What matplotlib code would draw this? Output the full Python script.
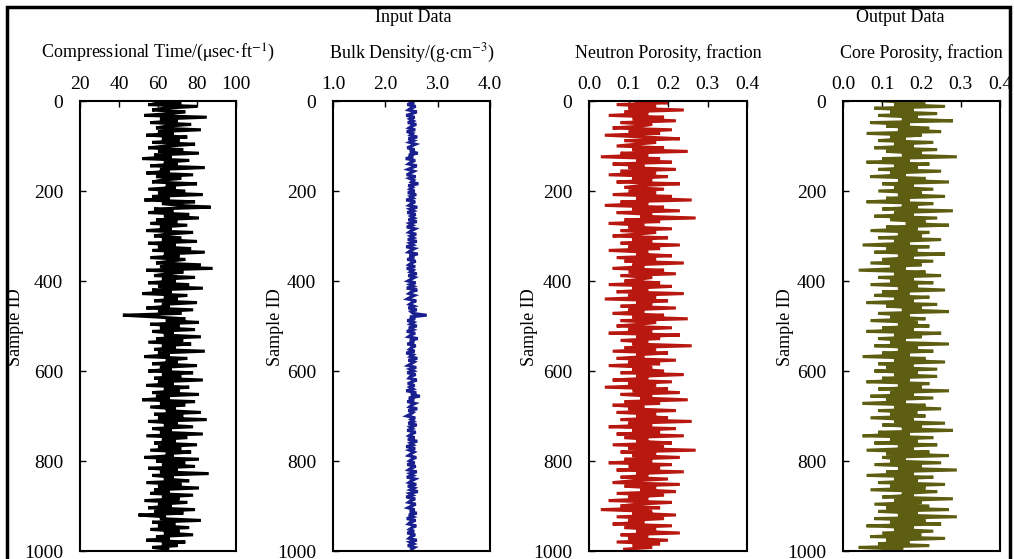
import matplotlib
matplotlib.use("Agg")
import matplotlib.pyplot as plt
from matplotlib.patches import Rectangle

plt.rcParams['font.family'] = ['Liberation Serif', 'DejaVu Serif']
plt.rcParams['mathtext.fontset'] = 'stix'

sample_id = list(range(0, 1000, 4))

comp_time = [
    58, 72, 55, 80, 63, 57, 74, 66, 53, 85, 61, 70, 56, 77, 64, 59, 82, 60, 68, 54, 75, 62, 71, 57, 79,
    65, 55, 73, 60, 81, 58, 67, 52, 76, 63, 70, 56, 84, 61, 66, 54, 78, 59, 72, 62, 57, 80, 64, 69, 55,
    74, 60, 83, 57, 66, 53, 79, 62, 71, 87, 58, 68, 55, 76, 63, 81, 59, 70, 56, 75, 61, 67, 54, 78, 64,
    58, 72, 62, 80, 55, 69, 60, 77, 57, 84, 63, 71, 56, 74, 66, 59, 82, 61, 88, 54, 73, 65, 58, 79, 62,
    69, 55, 76, 60, 83, 57, 67, 52, 75, 63, 70, 58, 80, 62, 66, 54, 78, 60, 72, 42, 59, 74, 64, 81, 56,
    71, 61, 79, 57, 68, 63, 82, 59, 73, 55, 77, 62, 69, 58, 84, 60, 66, 53, 75, 64, 70, 57, 80, 61, 67,
    55, 78, 62, 72, 58, 83, 60, 68, 54, 76, 63, 71, 57, 81, 59, 66, 52, 79, 61, 74, 56, 69, 64, 82, 58,
    73, 60, 85, 55, 70, 63, 78, 57, 67, 61, 83, 54, 75, 62, 69, 58, 80, 60, 72, 56, 77, 64, 68, 53, 81,
    59, 74, 62, 79, 55, 70, 61, 86, 57, 68, 63, 76, 54, 72, 60, 81, 58, 66, 56, 78, 62, 71, 53, 75, 60,
    67, 55, 79, 58, 73, 50, 64, 61, 82, 57, 69, 60, 76, 56, 71, 63, 78, 59, 66, 54, 74, 62, 70, 57, 65,
]

bulk_density = [
    2.46, 2.55, 2.42, 2.58, 2.49, 2.44, 2.60, 2.51, 2.40, 2.56, 2.47, 2.53, 2.43, 2.59, 2.50, 2.45, 2.57, 2.41, 2.52, 2.48, 2.61, 2.44, 2.54, 2.46, 2.58,
    2.50, 2.42, 2.56, 2.47, 2.62, 2.45, 2.53, 2.39, 2.57, 2.49, 2.44, 2.60, 2.51, 2.43, 2.55, 2.48, 2.41, 2.58, 2.46, 2.54, 2.50, 2.63, 2.44, 2.52, 2.47,
    2.56, 2.43, 2.59, 2.48, 2.53, 2.40, 2.57, 2.50, 2.45, 2.61, 2.47, 2.54, 2.42, 2.58, 2.49, 2.55, 2.44, 2.60, 2.46, 2.52, 2.41, 2.57, 2.50, 2.45, 2.59,
    2.48, 2.54, 2.43, 2.60, 2.47, 2.53, 2.40, 2.56, 2.49, 2.44, 2.62, 2.46, 2.55, 2.42, 2.58, 2.50, 2.45, 2.57, 2.41, 2.53, 2.48, 2.60, 2.44, 2.56, 2.49,
    2.43, 2.58, 2.47, 2.54, 2.41, 2.61, 2.50, 2.45, 2.56, 2.48, 2.42, 2.59, 2.51, 2.46, 2.55, 2.44, 2.60, 2.49, 2.53, 2.79, 2.47, 2.57, 2.42, 2.54, 2.48,
    2.60, 2.45, 2.53, 2.41, 2.57, 2.49, 2.44, 2.62, 2.47, 2.55, 2.42, 2.58, 2.50, 2.46, 2.56, 2.40, 2.53, 2.48, 2.61, 2.44, 2.55, 2.49, 2.43, 2.59, 2.47,
    2.54, 2.42, 2.58, 2.48, 2.45, 2.60, 2.51, 2.43, 2.56, 2.47, 2.53, 2.40, 2.59, 2.49, 2.66, 2.45, 2.55, 2.42, 2.57, 2.50, 2.46, 2.61, 2.44, 2.53, 2.48,
    2.41, 2.57, 2.49, 2.54, 2.44, 2.60, 2.47, 2.52, 2.42, 2.58, 2.50, 2.45, 2.56, 2.43, 2.61, 2.48, 2.53, 2.40, 2.57, 2.46, 2.55, 2.49, 2.44, 2.59, 2.51,
    2.46, 2.56, 2.42, 2.58, 2.49, 2.44, 2.60, 2.47, 2.53, 2.41, 2.57, 2.50, 2.45, 2.59, 2.43, 2.55, 2.48, 2.62, 2.46, 2.52, 2.40, 2.57, 2.49, 2.44, 2.58,
    2.50, 2.43, 2.56, 2.47, 2.60, 2.45, 2.53, 2.41, 2.58, 2.48, 2.44, 2.59, 2.51, 2.46, 2.55, 2.42, 2.57, 2.49, 2.45, 2.60, 2.47, 2.54, 2.43, 2.56, 2.50,
]

neutron_por = [
    0.12, 0.20, 0.07, 0.17, 0.10, 0.24, 0.09, 0.15, 0.05, 0.19, 0.11, 0.22, 0.08, 0.16, 0.13, 0.06, 0.21, 0.10, 0.18, 0.04, 0.14, 0.23, 0.09, 0.17, 0.12,
    0.07, 0.19, 0.11, 0.25, 0.08, 0.15, 0.03, 0.18, 0.12, 0.21, 0.06, 0.14, 0.10, 0.22, 0.08, 0.17, 0.05, 0.20, 0.11, 0.16, 0.07, 0.23, 0.13, 0.09, 0.19,
    0.10, 0.17, 0.06, 0.21, 0.12, 0.26, 0.08, 0.15, 0.04, 0.19, 0.11, 0.23, 0.07, 0.16, 0.13, 0.27, 0.09, 0.18, 0.05, 0.14, 0.10, 0.21, 0.08, 0.17, 0.12,
    0.06, 0.20, 0.11, 0.16, 0.08, 0.23, 0.10, 0.18, 0.05, 0.15, 0.12, 0.21, 0.07, 0.17, 0.09, 0.24, 0.11, 0.14, 0.06, 0.19, 0.10, 0.22, 0.08, 0.16, 0.13,
    0.09, 0.18, 0.05, 0.21, 0.11, 0.15, 0.07, 0.24, 0.10, 0.17, 0.04, 0.20, 0.12, 0.16, 0.08, 0.22, 0.10, 0.14, 0.06, 0.19, 0.11, 0.25, 0.08, 0.17, 0.13,
    0.07, 0.21, 0.10, 0.16, 0.05, 0.23, 0.12, 0.18, 0.08, 0.15, 0.11, 0.26, 0.09, 0.17, 0.06, 0.20, 0.12, 0.14, 0.07, 0.22, 0.10, 0.18, 0.05, 0.16, 0.11,
    0.19, 0.08, 0.24, 0.12, 0.15, 0.06, 0.21, 0.10, 0.17, 0.04, 0.20, 0.11, 0.23, 0.08, 0.16, 0.13, 0.25, 0.09, 0.18, 0.06, 0.14, 0.10, 0.22, 0.07, 0.17,
    0.12, 0.20, 0.08, 0.26, 0.10, 0.16, 0.05, 0.22, 0.11, 0.18, 0.07, 0.24, 0.09, 0.15, 0.12, 0.21, 0.06, 0.19, 0.10, 0.27, 0.08, 0.17, 0.11, 0.23, 0.09,
    0.16, 0.05, 0.21, 0.10, 0.18, 0.07, 0.24, 0.12, 0.15, 0.08, 0.20, 0.11, 0.06, 0.23, 0.09, 0.17, 0.13, 0.22, 0.07, 0.19, 0.10, 0.15, 0.05, 0.21, 0.12,
    0.08, 0.18, 0.03, 0.16, 0.11, 0.22, 0.07, 0.19, 0.10, 0.14, 0.06, 0.21, 0.09, 0.17, 0.12, 0.23, 0.08, 0.15, 0.10, 0.20, 0.07, 0.18, 0.11, 0.16, 0.09,
]

core_por = [
    0.10, 0.21, 0.13, 0.26, 0.08, 0.18, 0.12, 0.24, 0.09, 0.19, 0.15, 0.28, 0.07, 0.17, 0.11, 0.22, 0.14, 0.25, 0.06, 0.20, 0.12, 0.16, 0.09, 0.23, 0.13,
    0.18, 0.08, 0.24, 0.11, 0.20, 0.15, 0.29, 0.10, 0.17, 0.06, 0.22, 0.13, 0.19, 0.09, 0.25, 0.12, 0.16, 0.07, 0.21, 0.14, 0.27, 0.10, 0.18, 0.13, 0.23,
    0.09, 0.20, 0.14, 0.26, 0.11, 0.17, 0.06, 0.23, 0.15, 0.19, 0.10, 0.28, 0.13, 0.18, 0.08, 0.24, 0.12, 0.21, 0.16, 0.27, 0.11, 0.19, 0.07, 0.22, 0.14,
    0.20, 0.09, 0.25, 0.13, 0.17, 0.05, 0.22, 0.11, 0.19, 0.08, 0.26, 0.14, 0.18, 0.10, 0.23, 0.07, 0.20, 0.12, 0.16, 0.04, 0.21, 0.13, 0.25, 0.09, 0.18,
    0.12, 0.23, 0.07, 0.19, 0.14, 0.26, 0.10, 0.17, 0.08, 0.22, 0.13, 0.18, 0.06, 0.24, 0.11, 0.20, 0.15, 0.27, 0.09, 0.17, 0.12, 0.21, 0.07, 0.19, 0.14,
    0.22, 0.10, 0.18, 0.06, 0.25, 0.13, 0.20, 0.09, 0.16, 0.12, 0.27, 0.08, 0.19, 0.14, 0.23, 0.10, 0.17, 0.05, 0.21, 0.13, 0.26, 0.09, 0.18, 0.11, 0.24,
    0.08, 0.19, 0.13, 0.24, 0.10, 0.17, 0.06, 0.22, 0.14, 0.20, 0.09, 0.27, 0.12, 0.18, 0.07, 0.23, 0.11, 0.16, 0.05, 0.21, 0.13, 0.25, 0.09, 0.19, 0.12,
    0.21, 0.07, 0.18, 0.13, 0.26, 0.10, 0.20, 0.15, 0.28, 0.09, 0.17, 0.05, 0.23, 0.12, 0.19, 0.08, 0.24, 0.14, 0.18, 0.06, 0.22, 0.11, 0.27, 0.10, 0.16,
    0.12, 0.25, 0.08, 0.20, 0.14, 0.29, 0.11, 0.18, 0.06, 0.23, 0.13, 0.19, 0.09, 0.26, 0.12, 0.21, 0.07, 0.24, 0.15, 0.18, 0.10, 0.28, 0.13, 0.20, 0.08,
    0.22, 0.11, 0.27, 0.09, 0.19, 0.14, 0.29, 0.08, 0.21, 0.12, 0.25, 0.06, 0.18, 0.13, 0.23, 0.10, 0.20, 0.07, 0.26, 0.11, 0.17, 0.09, 0.22, 0.04, 0.15,
]

titles = [
    r'Compressional Time/($\mathrm{\mu}$sec$\cdot$ft$^{\mathrm{-1}}$)',
    r'Bulk Density/(g$\cdot$cm$^{\mathrm{-3}}$)',
    'Neutron Porosity, fraction',
    'Core Porosity, fraction',
]
xlims = [(20, 100), (1.0, 4.0), (0.0, 0.4), (0.0, 0.4)]
xticks = [[20, 40, 60, 80, 100], [1.0, 2.0, 3.0, 4.0],
          [0.0, 0.1, 0.2, 0.3, 0.4], [0.0, 0.1, 0.2, 0.3, 0.4]]
xticklabels = [['20', '40', '60', '80', '100'], ['1.0', '2.0', '3.0', '4.0'],
               ['0.0', '0.1', '0.2', '0.3', '0.4'], ['0.0', '0.1', '0.2', '0.3', '0.4']]
series = [comp_time, bulk_density, neutron_por, core_por]
colors = ['#000000', '#1a2090', '#b81810', '#5e5e12']

W, H = 1014, 559
fig = plt.figure(figsize=(W / 100, H / 100), dpi=100)

# axes boxes in pixels: left, right
boxes = [(80, 236), (333, 490), (589, 747), (843, 1000)]
top, bottom = 101, 551
ylabel_x = [16, 276, 530, 785]

for i in range(4):
    l, r = boxes[i]
    ax = fig.add_axes([l / W, 1 - bottom / H, (r - l) / W, (bottom - top) / H])
    ax.plot(series[i], sample_id, color=colors[i], lw=2.2, solid_joinstyle='miter')
    ax.set_xlim(*xlims[i])
    ax.set_ylim(1000, 0)
    ax.set_xticks(xticks[i])
    ax.set_xticklabels(xticklabels[i])
    ax.set_yticks([0, 200, 400, 600, 800, 1000])
    ax.xaxis.tick_top()
    ax.tick_params(axis='both', direction='in', length=4, width=1, labelsize=14)
    ax.tick_params(axis='x', pad=6)
    ax.tick_params(axis='y', pad=12)
    for s in ax.spines.values():
        s.set_linewidth(1.5)
    fig.text((l + r) / 2 / W, 1 - 53 / H, titles[i], ha='center', va='center', fontsize=13)
    fig.text(ylabel_x[i] / W, 1 - 327 / H, 'Sample ID', rotation=90,
             ha='center', va='center', fontsize=13)

fig.text(413 / W, 1 - 17 / H, 'Input Data', ha='center', va='center', fontsize=13)
fig.text(900 / W, 1 - 17 / H, 'Output Data', ha='center', va='center', fontsize=13)

# outer frame
fig.patches.append(Rectangle((7 / W, -0.01), 1003 / W, 1 - 7 / H + 0.01,
                             transform=fig.transFigure, fill=False, lw=2.5, ec='black'))

fig.savefig('out.png', dpi=100)
